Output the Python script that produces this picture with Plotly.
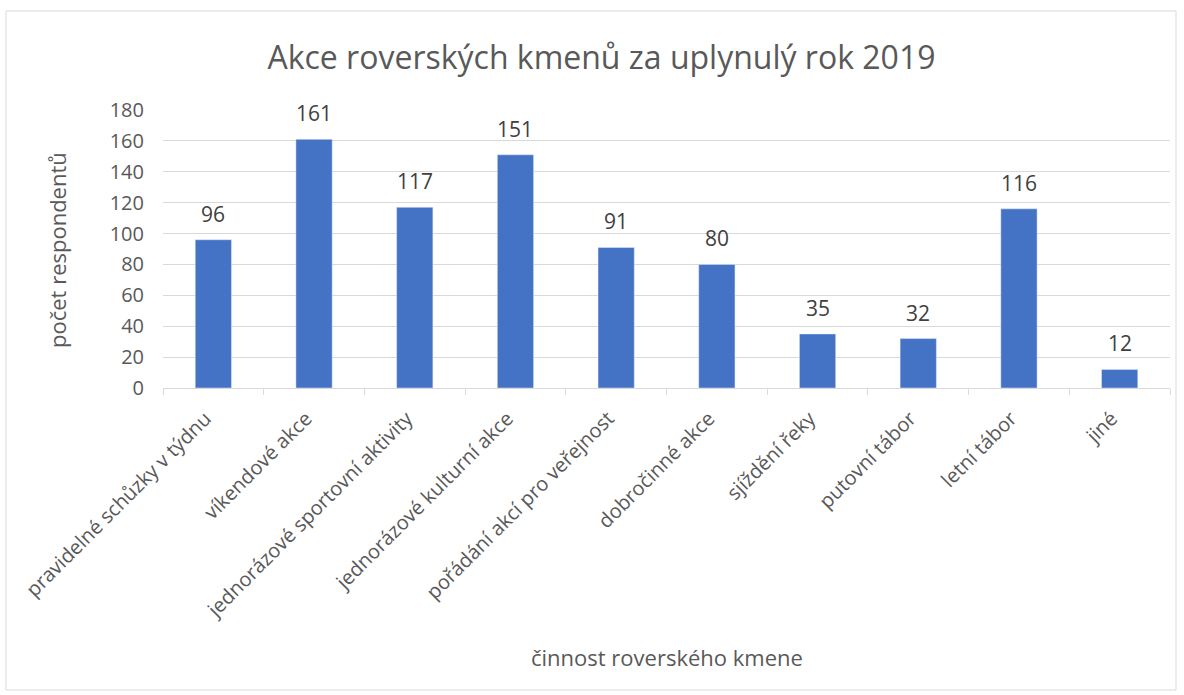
"""
Akce roverských kmenů za uplynulý rok 2019 - bar chart.
"""

import plotly.graph_objects as go

CATEGORIES = [
    "pravidelné schůzky v týdnu",
    "víkendové akce",
    "jednorázové sportovní aktivity",
    "jednorázové kulturní akce",
    "pořádání akcí pro veřejnost",
    "dobročinné akce",
    "sjíždění řeky",
    "putovní tábor",
    "letní tábor",
    "jiné",
]
COUNTS = [96, 161, 117, 151, 91, 80, 35, 32, 116, 12]
Y_TICKS = [0, 20, 40, 60, 80, 100, 120, 140, 160, 180]

TITLE = "Akce roverských kmenů za uplynulý rok 2019"
X_TITLE = "činnost roverského kmene"
Y_TITLE = "počet respondentů"

FONT = "Open Sans, Noto Sans, sans-serif"
BAR_COLOR = "#4472C4"
GRID = "#d9d9d9"
TEXT = "#595959"
LABEL = "#404040"

W, H = 1184, 695
L, R, T, B = 163, 14, 110, 307
PW, PH = W - L - R, H - T - B


def px_x(px):
    return (px - L) / PW


def px_y(py):
    return (H - B - py) / PH


fig = go.Figure(
    go.Bar(
        x=CATEGORIES,
        y=COUNTS,
        marker_color=BAR_COLOR,
        hoverinfo="x+y",
    )
)

# value labels float a little above each bar, like the Excel original
value_labels = [
    dict(
        x=cat,
        y=val,
        xref="x",
        yref="y",
        text=str(val),
        showarrow=False,
        yanchor="middle",
        yshift=26,
        font=dict(family=FONT, size=21, color=LABEL),
    )
    for cat, val in zip(CATEGORIES, COUNTS)
]

axis_titles = [
    dict(
        text=Y_TITLE,
        xref="paper",
        yref="paper",
        x=px_x(57),
        y=px_y(250),
        xanchor="center",
        yanchor="middle",
        textangle=-90,
        showarrow=False,
        font=dict(family=FONT, size=22, color=TEXT),
    ),
    dict(
        text=X_TITLE,
        xref="paper",
        yref="paper",
        x=px_x(667),
        y=px_y(657),
        xanchor="center",
        yanchor="middle",
        showarrow=False,
        font=dict(family=FONT, size=22, color=TEXT),
    ),
]

fig.update_layout(
    width=W,
    height=H,
    margin=dict(l=L, r=R, t=T, b=B, autoexpand=False),
    paper_bgcolor="white",
    plot_bgcolor="white",
    bargap=0.64,
    showlegend=False,
    font=dict(family=FONT, color=TEXT),
    title=dict(
        text=TITLE,
        x=0.508,
        xanchor="center",
        y=1 - 58 / H,
        yanchor="middle",
        font=dict(family=FONT, size=32, color=TEXT),
    ),
    annotations=value_labels + axis_titles,
    shapes=[
        dict(
            type="rect",
            xref="paper",
            yref="paper",
            x0=px_x(6),
            x1=px_x(1176),
            y0=px_y(690),
            y1=px_y(11),
            line=dict(color=GRID, width=1),
            fillcolor="rgba(0,0,0,0)",
            layer="below",
        )
    ],
)

fig.update_xaxes(
    tickangle=-45,
    tickfont=dict(family=FONT, size=20, color=TEXT),
    showline=True,
    linecolor=GRID,
    linewidth=1,
    ticks="outside",
    tickson="boundaries",
    tickcolor=GRID,
    ticklen=6,
    ticklabelstandoff=10,
    ticklabelshift=-8,
    showgrid=False,
    automargin=False,
)
fig.update_yaxes(
    range=[0, 180],
    tickvals=Y_TICKS,
    tickfont=dict(family=FONT, size=20, color=TEXT),
    showgrid=True,
    gridcolor=GRID,
    gridwidth=1,
    zeroline=False,
    showline=False,
    ticks="",
    ticklabelstandoff=18,
    automargin=False,
)

# page body has an 8px default margin; drop it so the figure sits at 0,0
fig.write_html(
    "out.html",
    config={"displayModeBar": False},
    post_script="document.body.style.margin='0';",
)
